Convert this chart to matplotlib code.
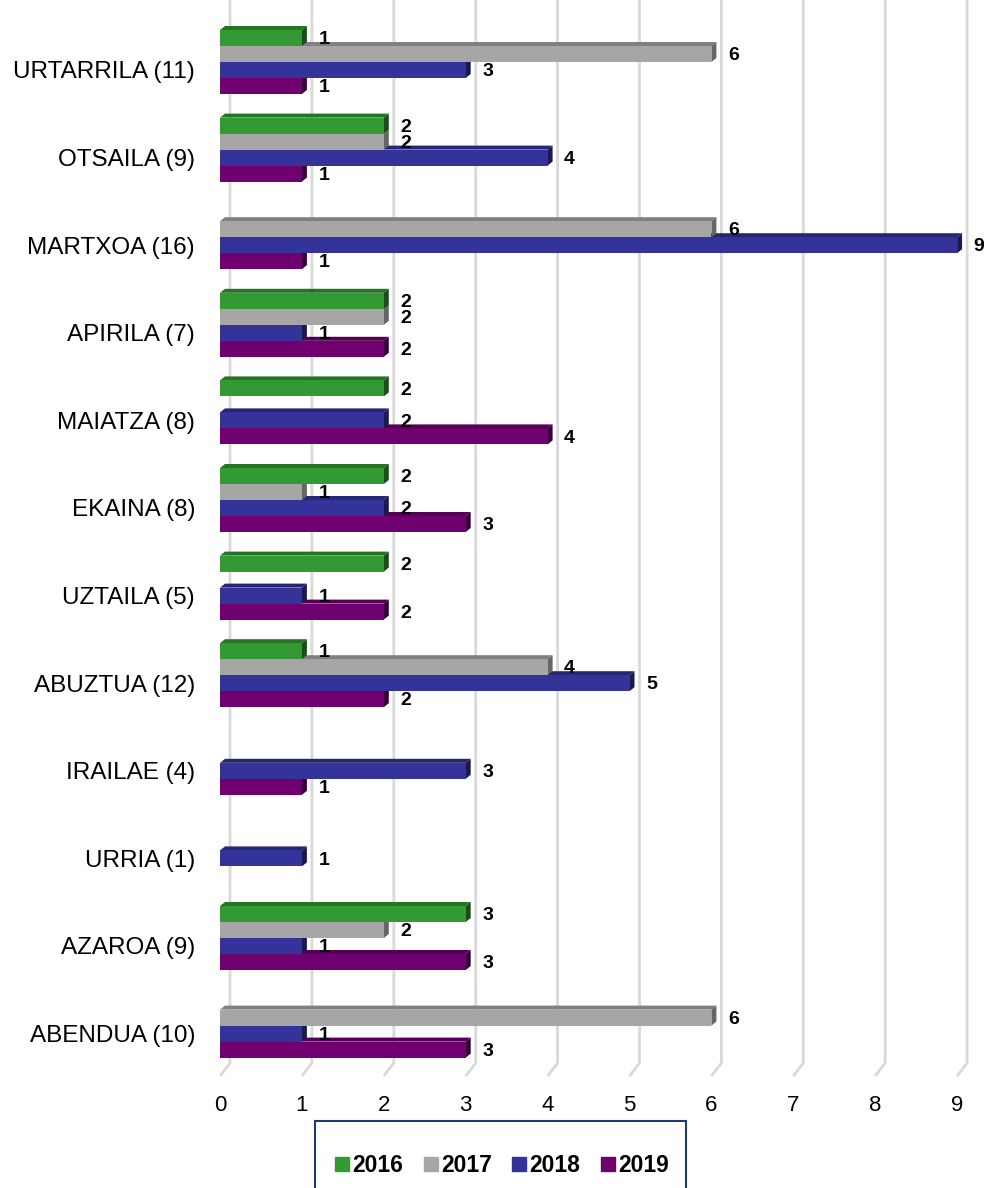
import matplotlib
matplotlib.use('Agg')
import matplotlib.pyplot as plt
import matplotlib.patches as patches
from matplotlib.lines import Line2D

plt.rcParams['font.family'] = ['Liberation Sans', 'DejaVu Sans']

# --- data ---
months = ['URTARRILA (11)', 'OTSAILA (9)', 'MARTXOA (16)', 'APIRILA (7)',
          'MAIATZA (8)', 'EKAINA (8)', 'UZTAILA (5)', 'ABUZTUA (12)',
          'IRAILAE (4)', 'URRIA (1)', 'AZAROA (9)', 'ABENDUA (10)']
years = ['2016', '2017', '2018', '2019']
v2016 = [1, 2, 0, 2, 2, 2, 2, 1, 0, 0, 3, 0]
v2017 = [6, 2, 6, 2, 0, 1, 0, 4, 0, 0, 2, 6]
v2018 = [3, 4, 9, 1, 2, 2, 1, 5, 3, 1, 1, 1]
v2019 = [1, 1, 1, 2, 4, 3, 2, 2, 1, 0, 3, 3]
series = [v2016, v2017, v2018, v2019]

face_colors = ['#339933', '#a6a6a6', '#333399', '#700070']
top_colors = ['#267326', '#808080', '#262673', '#540054']
side_colors = ['#1a4d1a', '#666666', '#1a1a4d', '#380038']

# --- figure ---
fig = plt.figure(figsize=(9.84, 11.88), dpi=100)
ax = fig.add_axes([220 / 984, 1 - 1080 / 1188, 765 / 984, 1080 / 1188])

px_x = 81.9   # pixels per x unit
px_y = 87.6   # pixels per category

bar_h = 16 / px_y
ddx = 5 / px_x
ddy = 4 / px_y

# gridlines with a slanted "floor" at the bottom
grid_dx = 10 / px_x
y_back = (1063 - 62) / px_y
y_front = (1076 - 62) / px_y
for k in range(10):
    ax.plot([k + grid_dx, k + grid_dx, k], [-62 / px_y, y_back, y_front],
            color='#d9d9d9', lw=2, zorder=1, solid_capstyle='butt')

# bars drawn bottom series first so upper faces cover lower top faces
for i in range(len(months)):
    for s in range(3, -1, -1):
        v = series[s][i]
        if v == 0:
            continue
        yt = i + (s - 2) * bar_h
        yb = yt + bar_h
        z = 3 + (4 - s)
        top = patches.Polygon([(0, yt), (v, yt), (v + ddx, yt - ddy), (ddx, yt - ddy)],
                              closed=True, facecolor=top_colors[s], edgecolor='none', zorder=z)
        side = patches.Polygon([(v, yt), (v + ddx, yt - ddy), (v + ddx, yb - ddy), (v, yb)],
                               closed=True, facecolor=side_colors[s], edgecolor='none', zorder=z)
        ax.add_patch(top)
        ax.add_patch(side)
        ax.barh(yt + bar_h / 2, v, height=bar_h, color=face_colors[s],
                edgecolor='none', zorder=z)
        ax.text(v + 0.2, yt + bar_h / 2 + 0.02, str(v), ha='left', va='center',
                fontsize=14, fontweight='bold', color='black', zorder=20)

# axes styling
for sp in ax.spines.values():
    sp.set_visible(False)
ax.set_yticks([i + 0.09 for i in range(len(months))])
ax.set_yticklabels(months, fontsize=17.5)
ax.set_xticks(range(10))
ax.set_xticklabels([str(k) for k in range(10)], fontsize=16)
ax.tick_params(axis='both', length=0)
ax.tick_params(axis='y', pad=18)
ax.tick_params(axis='x', pad=11)
ax.patch.set_alpha(0)

ax.set_xlim(0, 765 / px_x)
ax.set_ylim((1080 - 62) / px_y, -62 / px_y)

# legend box (cut off at bottom edge)
fig.patches.append(patches.Rectangle((315 / 984, -0.05), 371 / 984, (1188 - 1121) / 1188 + 0.05,
                                     transform=fig.transFigure, fill=False,
                                     edgecolor='#1f3a6e', lw=1.5))
handles = [Line2D([0], [0], marker='s', linestyle='none', markersize=10,
                  markerfacecolor=c, markeredgecolor=c) for c in face_colors]
fig.legend(handles, years, loc='center', bbox_to_anchor=(502 / 984, 1 - 1166 / 1188),
           ncol=4, frameon=False, handlelength=0.6, handletextpad=0.15,
           columnspacing=0.9, prop={'weight': 'bold', 'size': 16.5})

fig.savefig('out.png', dpi=100)
